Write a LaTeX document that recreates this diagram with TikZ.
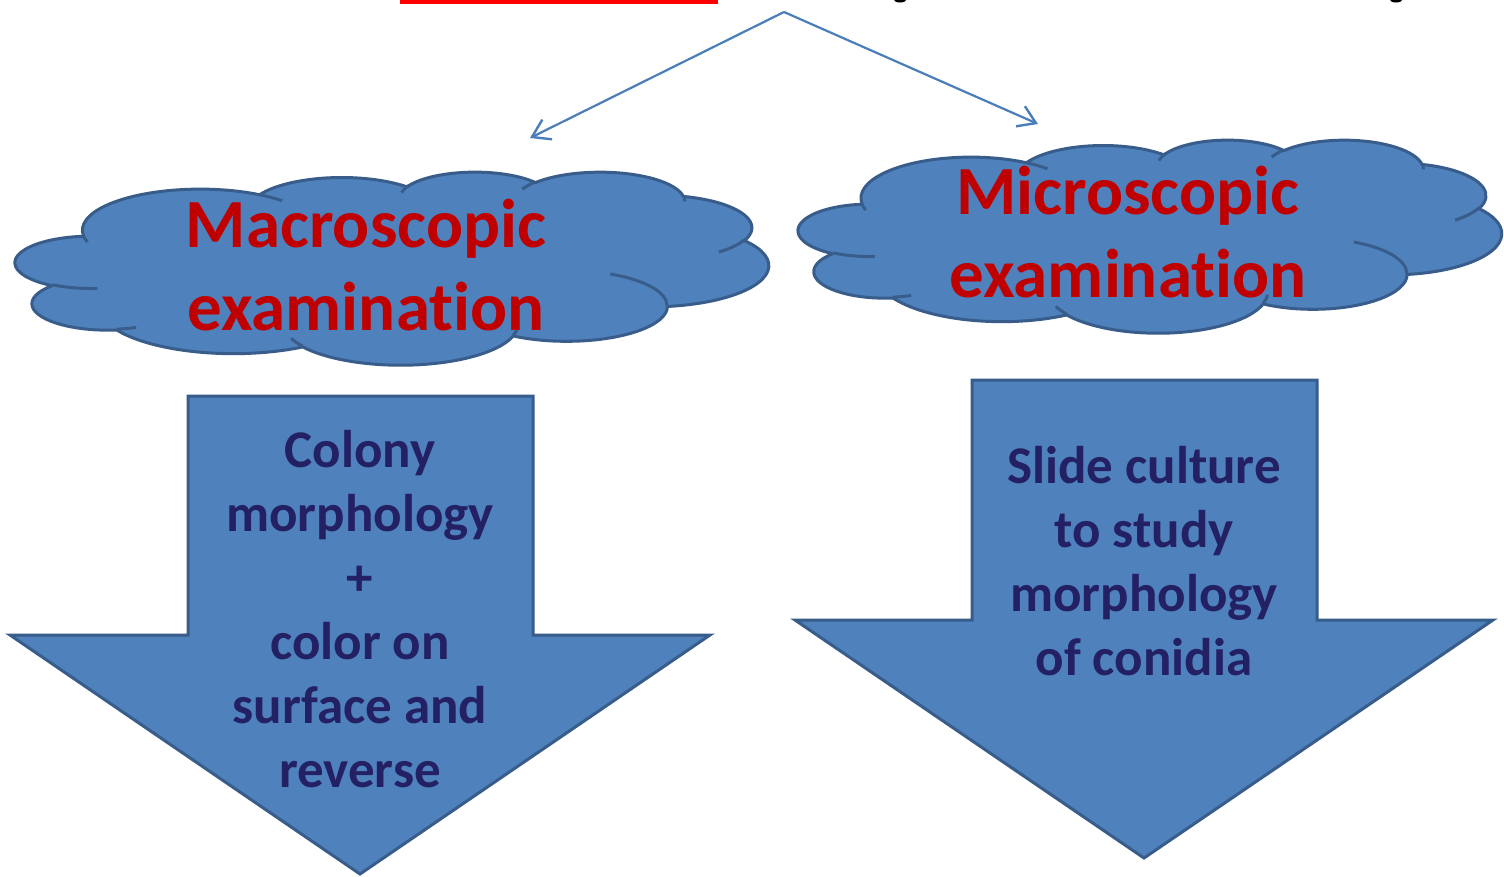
\documentclass[tikz,border=0pt]{standalone}
\usepackage{fontspec}
\setmainfont{Carlito}[Ligatures=NoCommon]
\usetikzlibrary{arrows.meta}
\definecolor{shapefill}{HTML}{4F81BD}
\definecolor{shapeline}{HTML}{385D8A}
\definecolor{connline}{HTML}{4A7EBB}
\definecolor{titlered}{HTML}{C00000}
\definecolor{navytext}{HTML}{232064}
\definecolor{barred}{HTML}{FF0000}
% arc of the Office cloud: x radius, y radius, start (visual) angle, sweep
\newcommand\carc[4]{arc[x radius=#1, y radius=#2,
  start angle={atan2((#1)*sin(#3),(#2)*cos(#3))},
  delta angle={Mod(atan2((#1)*sin((#3)+(#4)),(#2)*cos((#3)+(#4)))-atan2((#1)*sin(#3),(#2)*cos(#3)),360)}]}
\newcommand\cloudoutline{(39.00,143.70)
  \carc{67.53}{91.90}{-190.4875}{123.7805}
  \carc{53.33}{72.67}{-144.1024}{89.9452}
  \carc{43.65}{59.45}{-145.8079}{99.7230}
  \carc{48.57}{65.95}{-130.9861}{117.2417}
  \carc{53.33}{72.73}{-78.7089}{109.0269}
  \carc{67.75}{92.20}{-46.2673}{130.2690}
  \carc{57.85}{78.67}{0.6250}{114.0333}
  \carc{67.52}{92.15}{22.4516}{115.1726}
  \carc{77.20}{105.43}{66.2426}{75.7110}
  \carc{43.60}{59.18}{-274.9421}{146.7356}
  \carc{43.45}{59.45}{-246.8285}{152.5189} -- cycle}
\newcommand\cloudinner{%
  (46.93,261.77) \carc{43.45}{59.45}{86.7420}{26.4295}
  (69.28,348.99) \carc{43.60}{59.18}{73.6105}{11.4475}
  (164.78,390.90) \carc{67.52}{92.15}{137.6242}{14.0811}
  (288.27,347.51) \carc{67.52}{92.15}{6.4533}{15.9984}
  (341.29,229.54) \carc{57.85}{78.67}{-70.2924}{70.9174}
  (417.98,153.54) \carc{53.33}{72.73}{30.3180}{27.7515}
  (383.24,54.26) \carc{48.57}{65.95}{-13.7443}{14.8589}
  (290.78,39.52) \carc{48.57}{65.95}{-149.1815}{18.1954}
  (221.41,47.20) \carc{43.65}{59.45}{-163.4943}{20.7653}
  (140.00,51.92) \carc{67.53}{91.90}{-66.7070}{12.3194}
  (41.27,157.89) \carc{67.53}{91.90}{157.6544}{11.8582}}
\tikzset{
  cloudshape/.style={fill=shapefill, draw=shapeline, line width=3, line join=round},
  cloudarcs/.style={draw=shapeline, line width=3},
  bigarrow/.style={fill=shapefill, draw=shapeline, line width=3, line join=miter},
  cloudtext/.style={text=titlered, font=\bfseries\fontsize{69}{83}\selectfont, align=center, inner sep=0pt},
  arrowtext/.style={text=navytext, font=\bfseries\fontsize{53}{64}\selectfont, align=center, inner sep=0pt},
  connector/.style={draw=connline, line width=2.2, -{Straight Barb[length=17, width=22, line width=2.4]}},
}
\begin{document}
\begin{tikzpicture}[x=1pt, y=-1pt]
\useasboundingbox (0,0) rectangle (1504,876);
\fill[white] (0,0) rectangle (1504,876);
% cut-off heading remnants
\fill[barred] (400,0) rectangle (718,3.5);
\fill[black] (900,0) ellipse [x radius=6, y radius=2.5];
\fill[black] (1396,0) ellipse [x radius=6, y radius=2.5];
% connectors
\coordinate (apex) at (784,12);
\coordinate (lend) at (530,138);
\coordinate (rend) at (1038,124);
\draw[connector] (apex) -- (lend);
\draw[connector] (apex) -- (rend);
% left cloud
\begin{scope}[shift={(15.5,171.5)}, xscale=1.7431, yscale=0.4468]
  \path[cloudshape] \cloudoutline;
  \path[cloudarcs] \cloudinner;
\end{scope}
% right cloud
\begin{scope}[shift={(798.5,139.5)}, xscale=1.6273, yscale=0.4468]
  \path[cloudshape] \cloudoutline;
  \path[cloudarcs] \cloudinner;
\end{scope}
% multi-line nodes: base anchor sits on the last line
\node[cloudtext, anchor=base] (macro) at (366,330) {Macroscopic\\examination};
\node[cloudtext, anchor=base] (micro) at (1128,297) {Microscopic\\examination};
% big down arrows
\draw[bigarrow] (188,396) -- (533,396) -- (533,635) -- (710,635) -- (360,874)
  -- (10,635) -- (188,635) -- cycle;
\draw[bigarrow] (972,380) -- (1317,380) -- (1317,620) -- (1493,620) -- (1144,858)
  -- (795,620) -- (972,620) -- cycle;
\node[arrowtext, anchor=base] (colony) at (360,787) {Colony\\morphology\\+\\color on\\surface and\\reverse};
\node[arrowtext, anchor=base] (slide) at (1144,675) {Slide culture\\to study\\morphology\\of conidia};
\end{tikzpicture}
\end{document}
